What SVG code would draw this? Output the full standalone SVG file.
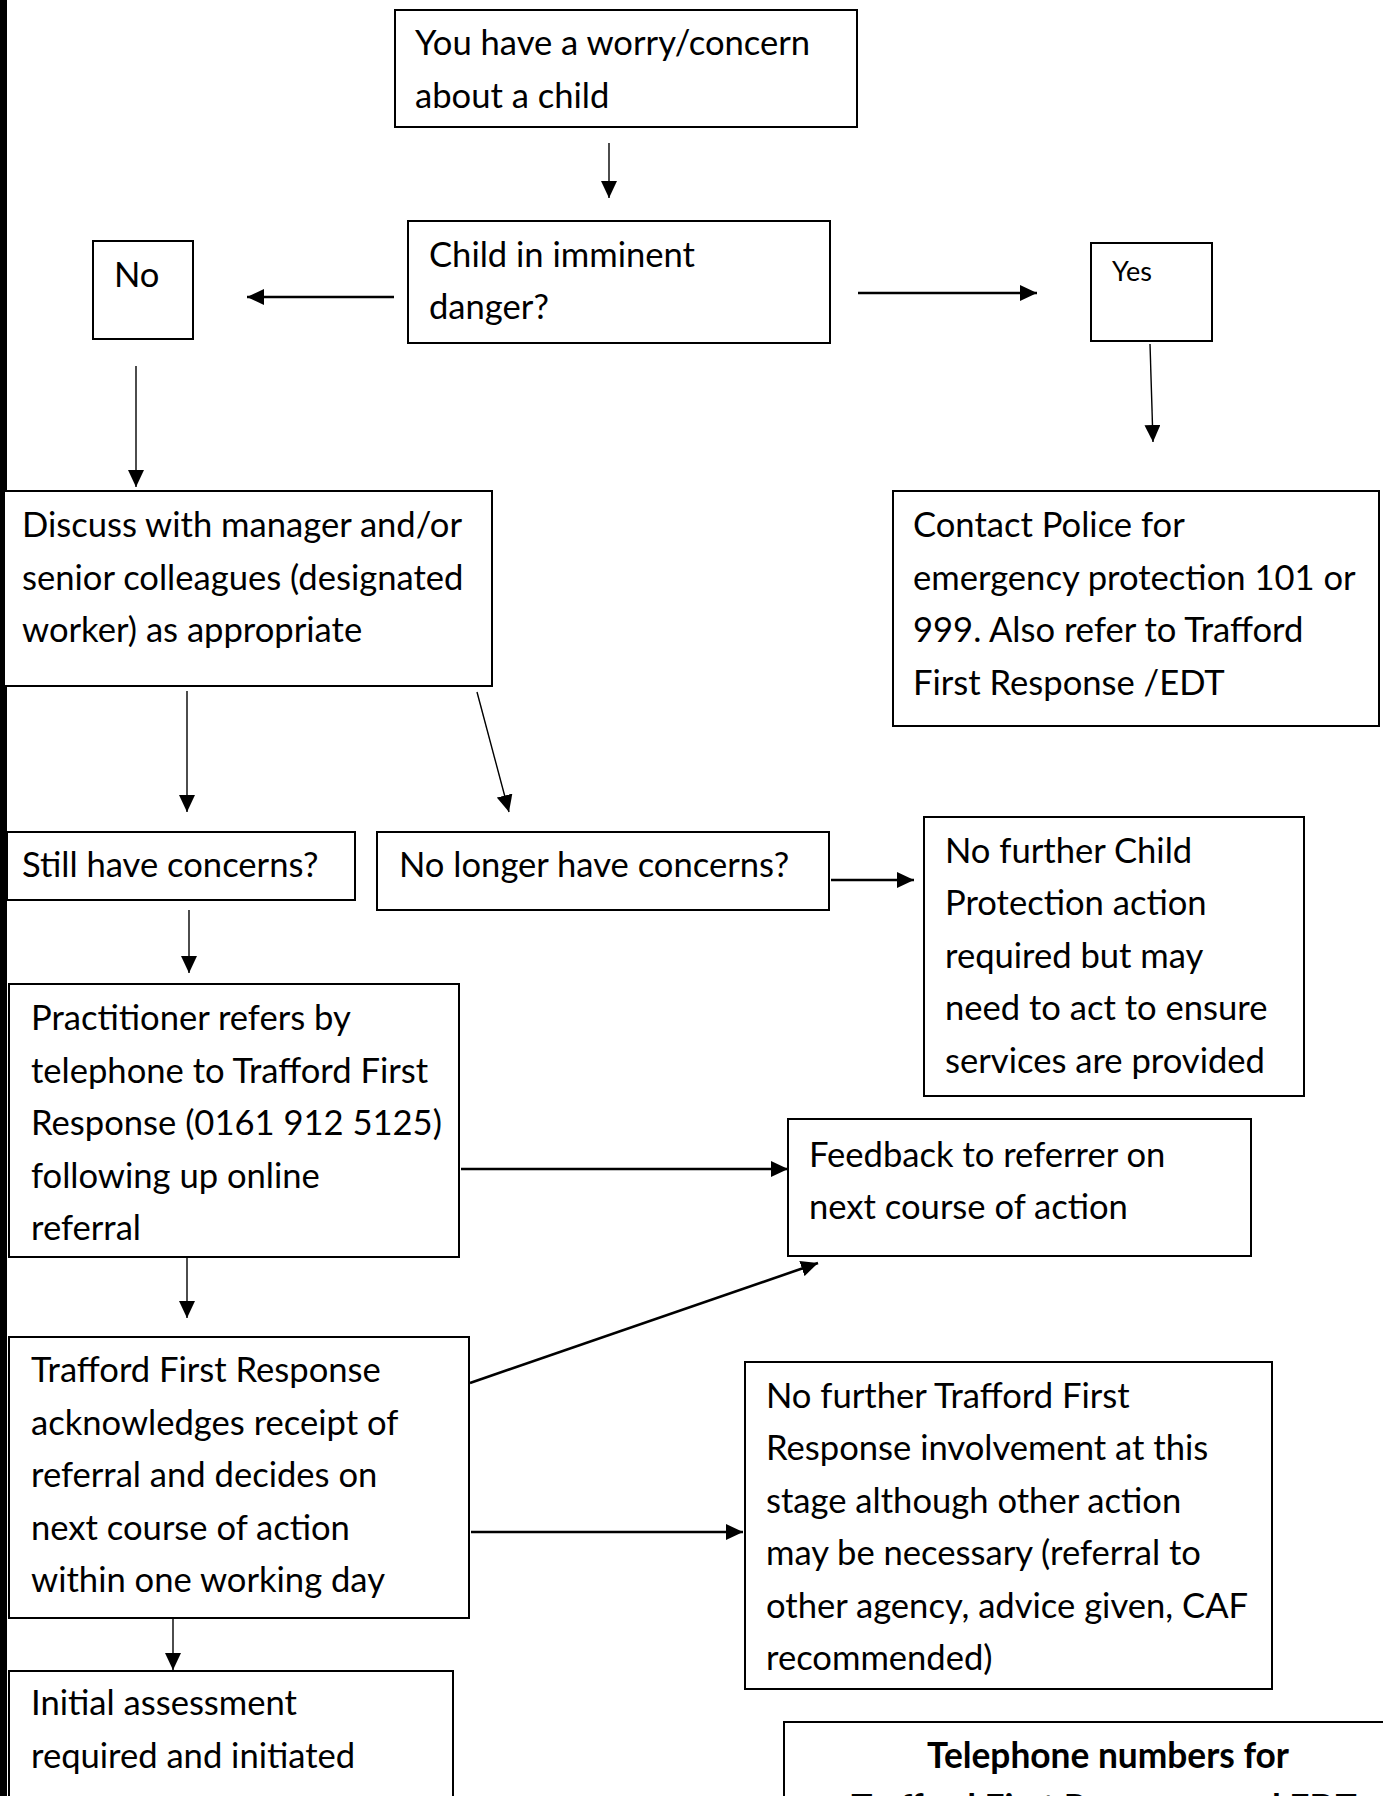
<svg xmlns="http://www.w3.org/2000/svg" width="1383" height="1796" viewBox="0 0 1383 1796">
<style>
.box{fill:#fff;stroke:#000;stroke-width:2}
.t{font-family:Lato,"Liberation Sans",sans-serif;font-size:34.6px;fill:#000}
.s{font-size:27px}
.b{font-weight:bold;font-size:35.3px}
.c{stroke:#000;stroke-width:1.4;fill:none}
.k{stroke-width:2.6}
</style>
<defs>
<marker id="ah" markerUnits="userSpaceOnUse" markerWidth="18" markerHeight="16" refX="17" refY="8" orient="auto">
<path d="M0,0 L17,8 L0,16 Z" fill="#000"/>
</marker>
</defs>
<rect x="0" y="0" width="1383" height="1796" fill="#fff"/>
<rect x="0" y="0" width="7" height="1796" fill="#000"/>

<g id="connectors">
<line class="c" x1="609" y1="143" x2="609" y2="198" marker-end="url(#ah)"/>
<line class="c k" x1="394" y1="297" x2="247" y2="297" marker-end="url(#ah)"/>
<line class="c k" x1="858" y1="293" x2="1037" y2="293" marker-end="url(#ah)"/>
<line class="c" x1="1150" y1="344" x2="1153" y2="442" marker-end="url(#ah)"/>
<line class="c" x1="136" y1="366" x2="136" y2="487" marker-end="url(#ah)"/>
<line class="c" x1="187" y1="691" x2="187" y2="812" marker-end="url(#ah)"/>
<line class="c" x1="477" y1="692" x2="509" y2="812" marker-end="url(#ah)"/>
<line class="c k" x1="831" y1="880" x2="914" y2="880" marker-end="url(#ah)"/>
<line class="c" x1="189" y1="910" x2="189" y2="973" marker-end="url(#ah)"/>
<line class="c k" x1="461" y1="1169" x2="788" y2="1169" marker-end="url(#ah)"/>
<line class="c" x1="187" y1="1257" x2="187" y2="1318" marker-end="url(#ah)"/>
<line class="c k" x1="470" y1="1383" x2="818" y2="1263" marker-end="url(#ah)"/>
<line class="c k" x1="471" y1="1532" x2="743" y2="1532" marker-end="url(#ah)"/>
<line class="c" x1="173" y1="1618" x2="173" y2="1670" marker-end="url(#ah)"/>
</g>

<g id="worry">
<rect class="box" x="395" y="10" width="462" height="117"/>
<text class="t" x="415" y="55">You have a worry/concern</text>
<text class="t" x="415" y="108">about a child</text>
</g>
<g id="danger">
<rect class="box" x="408" y="221" width="422" height="122"/>
<text class="t" x="429" y="267">Child in imminent</text>
<text class="t" x="429" y="319">danger?</text>
</g>
<g id="no">
<rect class="box" x="93" y="241" width="100" height="98"/>
<text class="t" x="114" y="287">No</text>
</g>
<g id="yes">
<rect class="box" x="1091" y="243" width="121" height="98"/>
<text class="t s" x="1112" y="281">Yes</text>
</g>
<g id="discuss">
<rect class="box" x="4" y="491" width="488" height="195"/>
<text class="t" x="22" y="537">Discuss with manager and/or</text>
<text class="t" x="22" y="590">senior colleagues (designated</text>
<text class="t" x="22" y="642">worker) as appropriate</text>
</g>
<g id="police">
<rect class="box" x="893" y="491" width="486" height="235"/>
<text class="t" x="913" y="537">Contact Police for</text>
<text class="t" x="913" y="590">emergency protection 101 or</text>
<text class="t" x="913" y="642">999. Also refer to Trafford</text>
<text class="t" x="913" y="695">First Response /EDT</text>
</g>
<g id="still">
<rect class="box" x="7" y="832" width="348" height="68"/>
<text class="t" x="22" y="877">Still have concerns?</text>
</g>
<g id="nolonger">
<rect class="box" x="377" y="832" width="452" height="78"/>
<text class="t" x="399" y="877">No longer have concerns?</text>
</g>
<g id="nofurtherchild">
<rect class="box" x="924" y="817" width="380" height="279"/>
<text class="t" x="945" y="863">No further Child</text>
<text class="t" x="945" y="915">Protection action</text>
<text class="t" x="945" y="968">required but may</text>
<text class="t" x="945" y="1020">need to act to ensure</text>
<text class="t" x="945" y="1073">services are provided</text>
</g>
<g id="practitioner">
<rect class="box" x="9" y="984" width="450" height="273"/>
<text class="t" x="31" y="1030">Practitioner refers by</text>
<text class="t" x="31" y="1083">telephone to Trafford First</text>
<text class="t" x="31" y="1135">Response (0161 912 5125)</text>
<text class="t" x="31" y="1188">following up online</text>
<text class="t" x="31" y="1240">referral</text>
</g>
<g id="feedback">
<rect class="box" x="788" y="1119" width="463" height="137"/>
<text class="t" x="809" y="1167">Feedback to referrer on</text>
<text class="t" x="809" y="1219">next course of action</text>
</g>
<g id="tfr">
<rect class="box" x="9" y="1337" width="460" height="281"/>
<text class="t" x="31" y="1382">Trafford First Response</text>
<text class="t" x="31" y="1435">acknowledges receipt of</text>
<text class="t" x="31" y="1487">referral and decides on</text>
<text class="t" x="31" y="1540">next course of action</text>
<text class="t" x="31" y="1592">within one working day</text>
</g>
<g id="nofurthertfr">
<rect class="box" x="745" y="1362" width="527" height="327"/>
<text class="t" x="766" y="1408">No further Trafford First</text>
<text class="t" x="766" y="1460">Response involvement at this</text>
<text class="t" x="766" y="1513">stage although other action</text>
<text class="t" x="766" y="1565">may be necessary (referral to</text>
<text class="t" x="766" y="1618">other agency, advice given, CAF</text>
<text class="t" x="766" y="1670">recommended)</text>
</g>
<g id="initial">
<rect class="box" x="9" y="1671" width="444" height="140"/>
<text class="t" x="31" y="1715">Initial assessment</text>
<text class="t" x="31" y="1768">required and initiated</text>
</g>
<g id="telephone">
<rect class="box" x="784" y="1722" width="620" height="100"/>
<text class="t b" x="1108" y="1768" text-anchor="middle">Telephone numbers for</text>
<text class="t b" x="1104" y="1820" text-anchor="middle">Trafford First Response and EDT</text>
</g>
</svg>
